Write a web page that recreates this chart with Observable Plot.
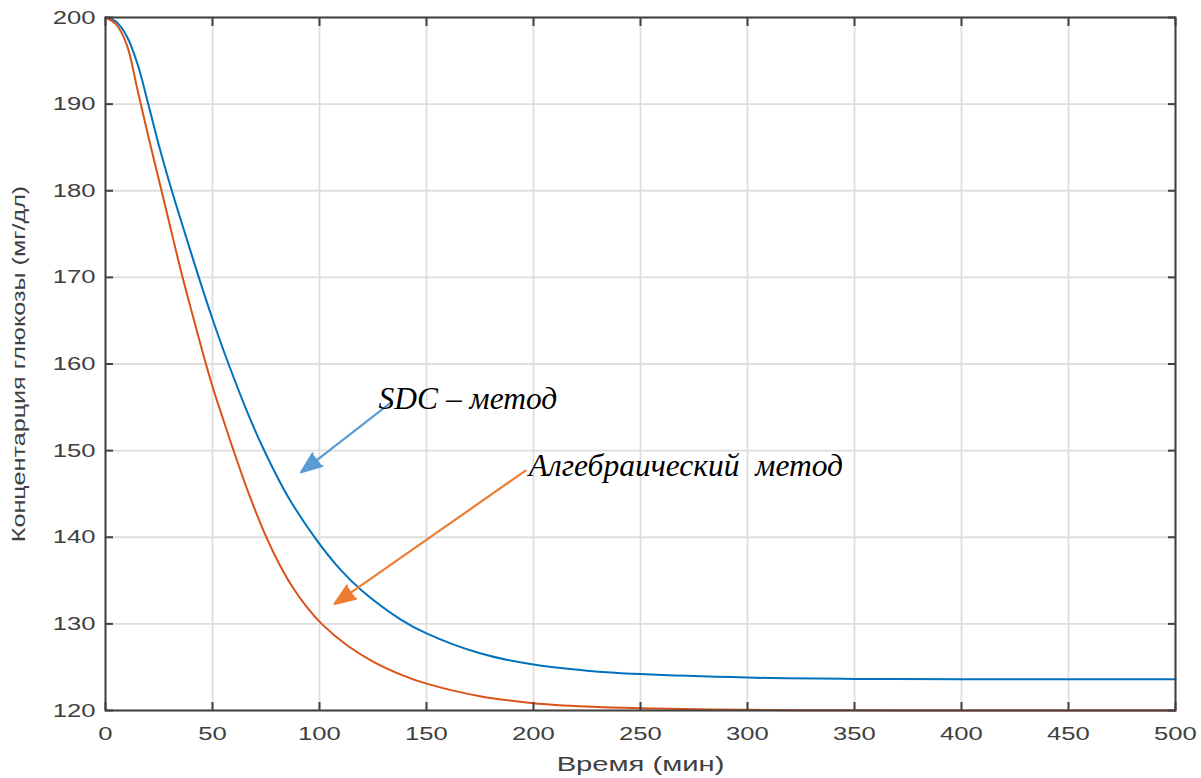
<!DOCTYPE html>
<html>
<head>
<meta charset="utf-8">
<script src="https://cdn.jsdelivr.net/npm/d3@7"></script>
<script src="https://cdn.jsdelivr.net/npm/@observablehq/plot@0.6"></script>
<style>
  html, body { margin: 0; padding: 0; background: #ffffff; }
  #chart { width: 1201px; height: 778px; }
</style>
</head>
<body>
<div id="chart"></div>
<script>
// ---- Data ----
const xTicks = [0, 50, 100, 150, 200, 250, 300, 350, 400, 450, 500];
const yTicks = [120, 130, 140, 150, 160, 170, 180, 190, 200];

// SDC method (blue)
const tSDC = [0, 5, 10, 15, 20, 25, 31, 37, 43.6, 50, 57.5, 67, 74, 85, 98, 110, 120, 138, 150, 175, 200, 225, 250, 300, 350, 400, 450, 500];
const vSDC = [200, 199.5, 197.8, 194.6, 190, 185.2, 180, 175.2, 170, 165.2, 160, 154.0, 150.1, 144.8, 139.9, 136.2, 133.8, 130.5, 128.9, 126.6, 125.3, 124.6, 124.2, 123.8, 123.65, 123.6, 123.6, 123.6];

// Algebraic method (orange)
const tAlg = [0, 5, 10, 15, 20, 25, 30, 35, 40, 45, 50, 55, 60, 67, 75, 81, 87, 94, 101, 113, 125, 138, 150, 175, 200, 225, 250, 300, 350, 400, 450, 500];
const vAlg = [200, 199.2, 196.8, 191.6, 186.3, 181.2, 176.1, 171.0, 166.3, 161.7, 157.4, 153.6, 149.9, 145.0, 140.1, 137.0, 134.4, 131.95, 130.0, 127.5, 125.65, 124.15, 123.1, 121.65, 120.85, 120.45, 120.25, 120.08, 120.02, 120, 120, 120];

// Annotations
const labelTexts = ["SDC \u2013 \u043c\u0435\u0442\u043e\u0434", "\u0410\u043b\u0433\u0435\u0431\u0440\u0430\u0438\u0447\u0435\u0441\u043a\u0438\u0439\u00a0 \u043c\u0435\u0442\u043e\u0434"];
const labelX = [127.6, 197.8];
const labelY = [154.8, 147.1];
const arrowX1 = [133.2, 196.3];
const arrowY1 = [155.5, 147.7];
const arrowX2 = [91.4, 107.1];
const arrowY2 = [147.5, 132.3];
const arrowColors = ["#5b9bd5", "#ed7d31"];

const sdcData = tSDC.map((t, i) => ({t, v: vSDC[i]}));
const algData = tAlg.map((t, i) => ({t, v: vAlg[i]}));
const labels = labelTexts.map((s, i) => ({s, x: labelX[i], y: labelY[i]}));
const arrows = arrowX1.map((x1, i) => ({x1, y1: arrowY1[i], x2: arrowX2[i], y2: arrowY2[i], c: arrowColors[i]}));

const axisColor = "#404040";
const gridColor = "#dedede";

const chart = Plot.plot({
  width: 1201,
  height: 778,
  marginLeft: 105,
  marginRight: 26,
  marginTop: 17,
  marginBottom: 68,
  style: {fontFamily: "'Liberation Sans', Arial, sans-serif", background: "#ffffff", color: axisColor},
  x: {domain: [0, 500]},
  y: {domain: [120, 200]},
  marks: [
    Plot.gridX(xTicks, {stroke: gridColor, strokeOpacity: 1, strokeWidth: 1.8}),
    Plot.gridY(yTicks, {stroke: gridColor, strokeOpacity: 1, strokeWidth: 1.8}),
    Plot.line(sdcData, {x: "t", y: "v", stroke: "#0072bd", strokeWidth: 2, curve: "catmull-rom"}),
    Plot.line(algData, {x: "t", y: "v", stroke: "#d95319", strokeWidth: 2, curve: "catmull-rom"}),
    Plot.frame({stroke: axisColor, strokeWidth: 2}),
    Plot.axisX(xTicks, {anchor: "bottom", tickSize: -8, tickPadding: 24, fontSize: 19, color: axisColor, strokeWidth: 2,
      label: "\u0412\u0440\u0435\u043c\u044f (\u043c\u0438\u043d)", labelAnchor: "center", labelOffset: 60, labelArrow: "none"}),
    Plot.axisX(xTicks, {anchor: "top", tickSize: -8, tickFormat: () => "", label: null, color: axisColor, strokeWidth: 2}),
    Plot.axisY(yTicks, {anchor: "left", tickSize: -8, tickPadding: 18, fontSize: 19, color: axisColor, strokeWidth: 2,
      label: "\u041a\u043e\u043d\u0446\u0435\u043d\u0442\u0430\u0440\u0446\u0438\u044f \u0433\u043b\u044e\u043a\u043e\u0437\u044b (\u043c\u0433/\u0434\u043b)", labelAnchor: "center", labelOffset: 93, labelArrow: "none"}),
    Plot.axisY(yTicks, {anchor: "right", tickSize: -8, tickFormat: () => "", label: null, color: axisColor, strokeWidth: 2}),
    Plot.arrow(arrows, {x1: "x1", y1: "y1", x2: "x2", y2: "y2", stroke: "c", fill: "c", strokeWidth: 2.2, headLength: 15, headAngle: 42, strokeLinejoin: "miter"}),
    Plot.text(labels, {x: "x", y: "y", text: "s", textAnchor: "start", lineAnchor: "bottom", fontSize: 31.5,
      fontFamily: "'Liberation Serif', 'Times New Roman', serif", fontStyle: "italic", fill: "#000000"})
  ]
});

// Wide axis lettering as in the reference
function stretchTexts(selector, s, fontSize) {
  chart.querySelectorAll(selector).forEach(g => {
    g.querySelectorAll("text").forEach(t => {
      const tr = t.getAttribute("transform") || "";
      t.setAttribute("transform", (tr + ` scale(${s},1)`).trim());
      if (fontSize) t.style.fontSize = fontSize + "px";
      t.style.fill = axisColor;
    });
  });
}
stretchTexts('[aria-label="x-axis tick label"]', 1.35);
stretchTexts('[aria-label="y-axis tick label"]', 1.35);
stretchTexts('[aria-label="x-axis label"]', 1.39, 21);
stretchTexts('[aria-label="y-axis label"]', 1.4, 18);

document.getElementById("chart").appendChild(chart);
</script>
</body>
</html>
